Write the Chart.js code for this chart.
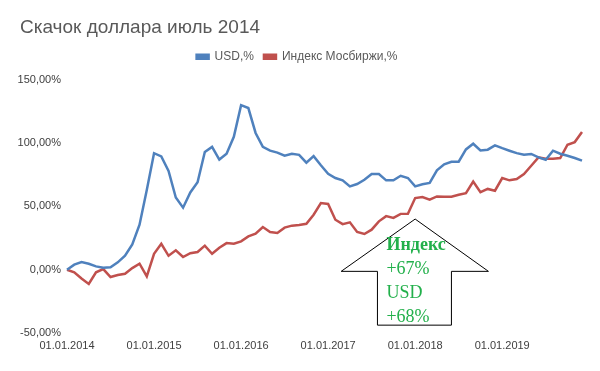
<!DOCTYPE html>
<html>
<head>
<meta charset="utf-8">
<script src="https://cdn.jsdelivr.net/npm/chart.js@4"></script>
<style>
  html, body { margin: 0; padding: 0; background: #fff; }
  #wrap { width: 600px; height: 371px; }
</style>
</head>
<body>
<div id="wrap"><canvas id="chart" width="600" height="371"></canvas></div>
<script>
// monthly points, Jan 2014 .. Dec 2019
const years = [2014, 2015, 2016, 2017, 2018, 2019];
const tickLabels = ['01.01.2014', '01.01.2015', '01.01.2016', '01.01.2017', '01.01.2018', '01.01.2019'];

const usdValues = [
    0, 4, 6, 4.7, 2.6, 1.6, 2, 5.8, 11, 20, 35.5, 63,
    92, 89.5, 78, 57, 49, 61, 69, 93, 97, 87, 91.6, 105,
    130, 127.7, 108, 97, 94, 92.5, 90, 91.6, 90.7, 84.5, 89.7, 82.5,
    75.8, 72.4, 70.6, 65.8, 67.7, 71, 75.6, 75.6, 70.6, 70.6, 74.2, 72.4,
    65.8, 67.5, 68.5, 78.5, 83.3, 85.3, 85.3, 95, 99.5, 94.2, 94.8, 98.2,
    96, 94, 92.1, 90.8, 91.4, 88.7, 86.9, 94, 91.6, 90, 88.2, 86.1
];

const indexValues = [
    0, -2, -7, -11.3, -2, 0.5, -5.8, -4.2, -3.2, 1.3, 4.7, -5.3,
    12.6, 20.5, 11, 15.3, 10, 13, 14, 19, 12.6, 17.4, 21, 20.5,
    22.4, 26.3, 28.4, 33.7, 29.8, 29, 33.2, 34.8, 35.3, 36.3, 43.4, 52.6,
    51.9, 39.5, 36, 37.4, 29.8, 28.2, 31.6, 38.2, 42.3, 40.9, 44.1, 44.2,
    56.6, 57.4, 55.3, 57.9, 57.7, 57.7, 59.2, 60.5, 69.6, 61.3, 63.8, 62.4,
    72.4, 70.6, 71.6, 75.6, 82.1, 88.7, 87.7, 87.7, 88.2, 98.7, 100.8, 108.7
];

const months = [];
years.forEach(y => {
    for (let m = 1; m <= 12; m++) {
        months.push('01.' + String(m).padStart(2, '0') + '.' + y);
    }
});

// annotation arrow, in category index / percent units
const arrowTip = { x: 48, y: 40 };
const arrowWings = { left: 37.8, right: 58.1, y: -1.3 };
const arrowShaft = { left: 42.8, right: 53, bottom: -43.8 };
const arrowText = [
    { text: 'Индекс', bold: true },
    { text: '+67%', bold: false },
    { text: 'USD', bold: false },
    { text: '+68%', bold: false }
];

const arrowPlugin = {
    id: 'arrowNote',
    afterDatasetsDraw(chart) {
        const xs = chart.scales.x, ys = chart.scales.y;
        const ctx = chart.ctx;
        const px = v => xs.getPixelForValue(v);
        const py = v => ys.getPixelForValue(v);
        ctx.save();
        ctx.beginPath();
        ctx.moveTo(px(arrowTip.x), py(arrowTip.y));
        ctx.lineTo(px(arrowWings.right), py(arrowWings.y));
        ctx.lineTo(px(arrowShaft.right), py(arrowWings.y));
        ctx.lineTo(px(arrowShaft.right), py(arrowShaft.bottom));
        ctx.lineTo(px(arrowShaft.left), py(arrowShaft.bottom));
        ctx.lineTo(px(arrowShaft.left), py(arrowWings.y));
        ctx.lineTo(px(arrowWings.left), py(arrowWings.y));
        ctx.closePath();
        ctx.fillStyle = '#ffffff';
        ctx.fill();
        ctx.lineWidth = 1;
        ctx.strokeStyle = '#000000';
        ctx.stroke();

        const tx = px(arrowShaft.left) + 9;
        const top = py(arrowTip.y);
        ctx.fillStyle = '#22B04B';
        ctx.textBaseline = 'middle';
        ctx.textAlign = 'left';
        arrowText.forEach((t, i) => {
            ctx.font = (t.bold ? 'bold ' : '') + '18px "Liberation Serif", serif';
            ctx.fillText(t.text, tx, top + 26 + i * 24);
        });
        ctx.restore();
    }
};

// extra room under the legend, and nudge the title right to x=20
const blockTweaks = {
    id: 'blockTweaks',
    beforeInit(chart) {
        const fit = chart.legend.fit;
        chart.legend.fit = function () {
            fit.call(this);
            this.height += 7;
        };
        const draw = chart.titleBlock.draw;
        chart.titleBlock.draw = function () {
            this.ctx.save();
            this.ctx.translate(8, 0);
            draw.call(this);
            this.ctx.restore();
        };
    }
};

new Chart(document.getElementById('chart'), {
    type: 'line',
    data: {
        labels: months,
        datasets: [{
            label: 'USD,%',
            data: usdValues,
            borderColor: '#4F81BD',
            backgroundColor: '#4F81BD',
            borderWidth: 2.5,
            pointRadius: 0,
            tension: 0,
            clip: 6
        }, {
            label: 'Индекс Мосбиржи,%',
            data: indexValues,
            borderColor: '#C0504D',
            backgroundColor: '#C0504D',
            borderWidth: 2.5,
            pointRadius: 0,
            tension: 0,
            clip: 6
        }]
    },
    options: {
        responsive: false,
        animation: false,
        layout: { padding: { left: 12, right: 18, top: 0, bottom: 0 } },
        plugins: {
            title: {
                display: true,
                text: 'Скачок доллара июль 2014',
                align: 'start',
                color: '#595959',
                font: { family: '"Liberation Sans", Arial, sans-serif', size: 19, weight: 'normal', lineHeight: 1.2 },
                padding: { top: 16, bottom: 2 }
            },
            legend: {
                display: true,
                position: 'top',
                labels: {
                    boxWidth: 12,
                    boxHeight: 4,
                    padding: 10,
                    color: '#595959',
                    font: { family: '"Liberation Sans", Arial, sans-serif', size: 12 }
                }
            },
            tooltip: { enabled: false }
        },
        scales: {
            x: {
                grid: { display: false, drawTicks: false },
                border: { display: false },
                ticks: {
                    autoSkip: false,
                    maxRotation: 0,
                    padding: 6,
                    color: '#404040',
                    font: { family: '"Liberation Sans", Arial, sans-serif', size: 11 },
                    callback: function (val) {
                        const l = this.getLabelForValue(val);
                        return tickLabels.includes(l) ? l : '';
                    }
                },
                afterFit(scale) { scale.height = 38; }
            },
            y: {
                min: -50,
                max: 150,
                grid: { display: false, drawTicks: false },
                border: { display: false },
                ticks: {
                    stepSize: 50,
                    padding: 6,
                    color: '#404040',
                    font: { family: '"Liberation Sans", Arial, sans-serif', size: 11 },
                    callback: v => v.toFixed(2).replace('.', ',') + '%'
                },
                afterFit(scale) { scale.width = 55; }
            }
        }
    },
    plugins: [blockTweaks, arrowPlugin]
});
</script>
</body>
</html>
